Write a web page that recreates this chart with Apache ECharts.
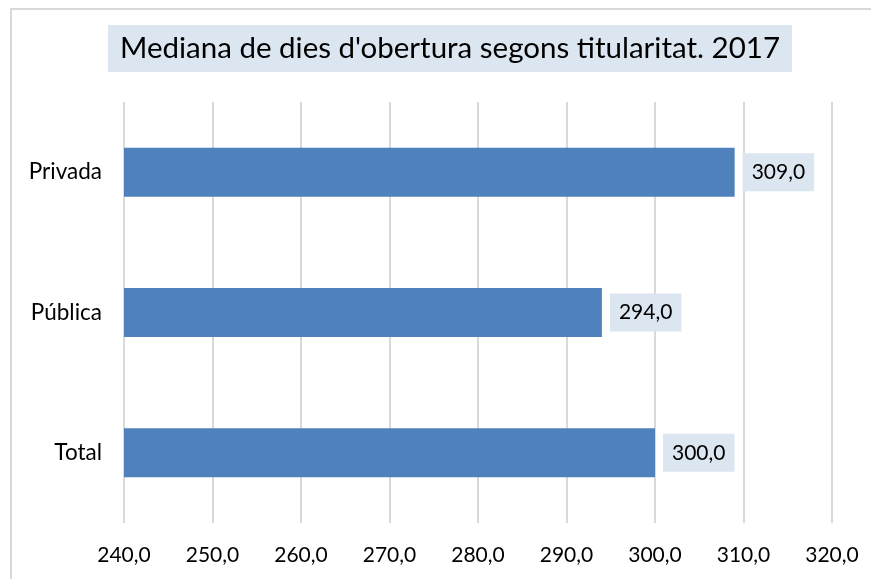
<!DOCTYPE html>
<html>
<head>
<meta charset="utf-8">
<script src="https://cdn.jsdelivr.net/npm/echarts@6/dist/echarts.min.js"></script>
<style>
html,body{margin:0;padding:0;background:#fff;}
#chart{width:871px;height:579px;}
</style>
</head>
<body>
<div id="chart"></div>
<script>
// Median opening days by ownership, 2017
const categories = ['Total', 'Pública', 'Privada'];
const values = [300, 294, 309];
const axisMin = 240;
const axisMax = 320;
const axisStep = 10;

const fmt = v => v.toFixed(1).replace('.', ',');
const FONT = 'Lato, "Open Sans", sans-serif';

const chart = echarts.init(document.getElementById('chart'));
chart.setOption({
  animation: false,
  backgroundColor: '#fff',
  graphic: [{
    type: 'rect',
    shape: { x: 11, y: 9, width: 880, height: 600 },
    style: { fill: 'none', stroke: '#d9d9d9', lineWidth: 2 },
    silent: true, z: -1
  }],
  title: {
    text: 'Mediana de dies d\'obertura segons titularitat. 2017',
    left: 108, top: 25,
    padding: [6, 12, 7, 12],
    backgroundColor: '#dce6f1',
    textStyle: { fontFamily: FONT, fontSize: 29.5, lineHeight: 34, fontWeight: 'normal', color: '#000' }
  },
  grid: { left: 124, right: 39, top: 102, bottom: 56, containLabel: false },
  xAxis: {
    type: 'value', min: axisMin, max: axisMax, interval: axisStep,
    axisLine: { show: false }, axisTick: { show: false },
    splitLine: { show: true, lineStyle: { color: '#d9d9d9', width: 2 } },
    axisLabel: {
      formatter: v => fmt(v), margin: 22,
      fontFamily: FONT, fontSize: 21, color: '#000'
    }
  },
  yAxis: {
    type: 'category', data: categories,
    axisLine: { show: false }, axisTick: { show: false },
    axisLabel: { margin: 22, fontFamily: FONT, fontSize: 22.5, color: '#000' }
  },
  series: [{
    type: 'bar', data: values, barWidth: 49,
    itemStyle: { color: '#4f81bd' },
    label: {
      show: true, position: 'right', distance: 8,
      formatter: p => fmt(p.value),
      backgroundColor: '#dce6f1', padding: [7, 9, 7, 9], lineHeight: 24,
      fontFamily: FONT, fontSize: 21, color: '#000'
    }
  }]
});
</script>
</body>
</html>
